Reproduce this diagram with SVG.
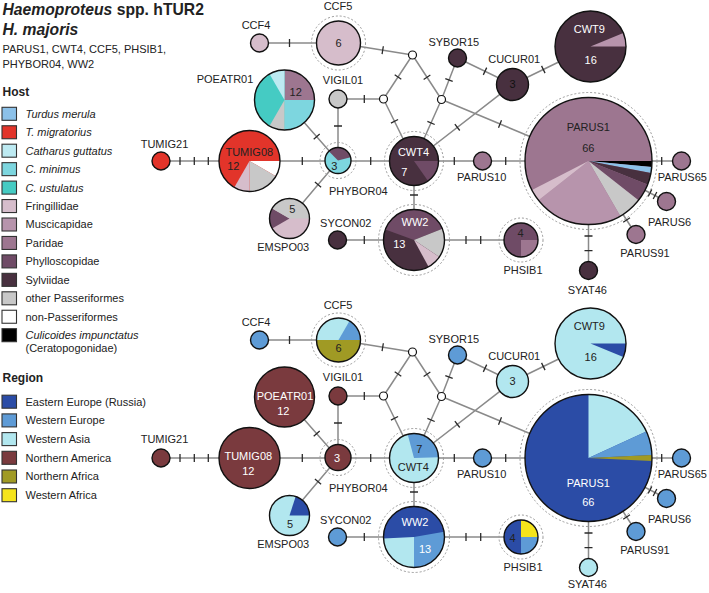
<svg xmlns="http://www.w3.org/2000/svg" width="709" height="593" viewBox="0 0 709 593">
<style>
text{font-family:"Liberation Sans",Arial,sans-serif;font-size:11px;fill:#222}
.c{text-anchor:middle}
.wt{fill:#fff}
.b{font-weight:bold}
.i{font-style:italic}
.e{stroke:#8a8a8a;stroke-width:1.5;fill:none}
.t{stroke:#2a2a2a;stroke-width:1.3;fill:none}
.n{stroke:#111;stroke-width:1.4}
.o{fill:none;stroke:#111;stroke-width:1.4}
.d{fill:none;stroke:#9a9a9a;stroke-width:1;stroke-dasharray:2 2}
.j{fill:#fff;stroke:#111;stroke-width:1.2}
.lb{stroke:#333;stroke-width:1.1}
.tm{fill:#8CC1E9}.tmig{fill:#E2342A}.cg{fill:#BDEAF2}.cmin{fill:#7DD6DF}.cust{fill:#45CBC3}
.fring{fill:#D6BDCB}.musc{fill:#B794AC}.parid{fill:#9D7690}.phyl{fill:#6F4B66}.sylv{fill:#48303F}
.oth{fill:#C8C8C8}.nonp{fill:#FFFFFF}.culi{fill:#000}
.ee{fill:#2B4CA6}.we{fill:#5E9BD6}.wa{fill:#B2E7EF}.na{fill:#7A3A3E}.naf{fill:#A09A24}.waf{fill:#F5E41C}
</style>

<g id="legend">
<text x="2.5" y="14.5" class="b" style="font-size:15.7px"><tspan class="i">Haemoproteus</tspan> spp. hTUR2</text>
<text x="2.5" y="35" class="b i" style="font-size:15.7px">H. majoris</text>
<text x="2.5" y="53">PARUS1, CWT4, CCF5, PHSIB1,</text>
<text x="2.5" y="68">PHYBOR04, WW2</text>
<text x="2.5" y="96" class="b" style="font-size:12px">Host</text>
<rect class="lb tm" x="2" y="107.3" width="14.5" height="13"/><text x="25.5" y="117.7" class="i">Turdus merula</text>
<rect class="lb tmig" x="2" y="125.75" width="14.5" height="13"/><text x="25.5" y="136.15" class="i">T. migratorius</text>
<rect class="lb cg" x="2" y="144.2" width="14.5" height="13"/><text x="25.5" y="154.6" class="i">Catharus guttatus</text>
<rect class="lb cmin" x="2" y="162.65" width="14.5" height="13"/><text x="25.5" y="173.05" class="i">C. minimus</text>
<rect class="lb cust" x="2" y="181.1" width="14.5" height="13"/><text x="25.5" y="191.5" class="i">C. ustulatus</text>
<rect class="lb fring" x="2" y="199.55" width="14.5" height="13"/><text x="25.5" y="209.95">Fringillidae</text>
<rect class="lb musc" x="2" y="218" width="14.5" height="13"/><text x="25.5" y="228.4">Muscicapidae</text>
<rect class="lb parid" x="2" y="236.45" width="14.5" height="13"/><text x="25.5" y="246.85">Paridae</text>
<rect class="lb phyl" x="2" y="254.9" width="14.5" height="13"/><text x="25.5" y="265.3">Phylloscopidae</text>
<rect class="lb sylv" x="2" y="273.35" width="14.5" height="13"/><text x="25.5" y="283.75">Sylviidae</text>
<rect class="lb oth" x="2" y="291.8" width="14.5" height="13"/><text x="25.5" y="302.2">other Passeriformes</text>
<rect class="lb nonp" x="2" y="310.25" width="14.5" height="13"/><text x="25.5" y="320.65">non-Passeriformes</text>
<rect class="lb culi" x="2" y="328.7" width="14.5" height="13"/><text x="25.5" y="339.1" class="i">Culicoides impunctatus</text>
<text x="25.5" y="352.3">(Ceratopogonidae)</text>
<text x="2.5" y="382" class="b" style="font-size:12px">Region</text>
<rect class="lb ee" x="2" y="395.2" width="14.5" height="13"/><text x="25.5" y="405.6">Eastern Europe (Russia)</text>
<rect class="lb we" x="2" y="413.9" width="14.5" height="13"/><text x="25.5" y="424.3">Western Europe</text>
<rect class="lb wa" x="2" y="432.6" width="14.5" height="13"/><text x="25.5" y="443">Western Asia</text>
<rect class="lb na" x="2" y="451.3" width="14.5" height="13"/><text x="25.5" y="461.7">Northern America</text>
<rect class="lb naf" x="2" y="470" width="14.5" height="13"/><text x="25.5" y="480.4">Northern Africa</text>
<rect class="lb waf" x="2" y="488.7" width="14.5" height="13"/><text x="25.5" y="499.1">Western Africa</text>
</g>

<!-- ================= HOST NETWORK ================= -->
<g id="host-network">
<g id="host-connectors">
<path class="e" d="M161,161H681.5 M284.5,100L338,161 M289.5,218.5L338,161 M338,99V161 M338,99H383.5 M259.5,43H338.5 M338.5,43L412.5,55 M412.5,55L383.5,99 M412.5,55L441.5,99.5 M383.5,99L414,161 M441.5,99.5L414,161 M441.5,99.5L457.5,58 M441.5,99.5L588.5,161 M414,161L512.5,84.5 M457.5,58L512.5,84.5 M512.5,84.5L590.5,46.5 M414,161V240 M337.5,240H521 M588.5,161L666.5,201.5 M588.5,161L636,234.5 M588.5,161V270.5"/>
<path class="t" d="M180,157V165 M194.3,157V165 M208.3,157V165 M302.3,157V165 M370.7,157V165 M454.3,157V165 M505.7,157V165 M661.7,157V165 M289.5,39V47 M364.3,95V103 M364.3,236V244 M466,236V244 M480.7,236V244 M334,126H342 M410,195H418 M584.5,236H592.5 M584.5,250.7H592.5 M313.7,139.3L319.7,134.1 M321.1,187.3L314.9,182.1 M382.06,54.15L383.34,46.25 M401.3,79.2L394.7,74.8 M430.35,75.07L423.65,79.43 M398.1,119.5L390.9,123.1 M434.7,124.5L427.4,121.3 M452.7,81.4L445.3,78.6 M498.5,127.7L501.5,120.3 M459.75,130.5L454.85,124.1 M483.3,74.85L486.7,67.65 M545.05,73.1L541.55,65.9 M648.2,196.4L651.8,189.4 M653.2,199L656.8,192 M623.2,222.2L630,217.8"/>
</g>
<g id="h-J1"><circle class="j" cx="412.5" cy="55" r="4"/></g>
<g id="h-J2"><circle class="j" cx="383.5" cy="99" r="4"/></g>
<g id="h-J3"><circle class="j" cx="441.5" cy="99.5" r="4"/></g>
<g id="h-TUMIG21"><circle class="n tmig" cx="161" cy="161" r="9"/><text class="c" x="164.5" y="148">TUMIG21</text></g>
<g id="h-TUMIG08"><circle class="tmig" cx="249.5" cy="161" r="30.5"/>
<path class="nonp" d="M249.5,161L280,161A30.5,30.5 0 0 1 275.91,176.25Z"/>
<path class="oth" d="M249.5,161L275.91,176.25A30.5,30.5 0 0 1 249.5,191.5Z"/>
<path class="fring" d="M249.5,161L249.5,191.5A30.5,30.5 0 0 1 234.25,187.41Z"/>
<circle class="o" cx="249.5" cy="161" r="30.5"/>
<text class="c" x="249.3" y="155.6">TUMIG08</text><text class="c" x="233.3" y="169.6">12</text></g>
<g id="h-POEATR01"><circle class="cust" cx="284.5" cy="100" r="30"/>
<path class="parid" d="M284.5,100L284.5,70A30,30 0 0 1 314.5,100Z"/>
<path class="cmin" d="M284.5,100L314.5,100A30,30 0 0 1 284.5,130Z"/>
<path class="oth" d="M284.5,100L284.5,130A30,30 0 0 1 269.5,125.98Z"/>
<path class="cg" d="M284.5,100L269.5,74.02A30,30 0 0 1 284.5,70Z"/>
<circle class="o" cx="284.5" cy="100" r="30"/>
<text class="c" x="295.7" y="95.6">12</text><text class="c" x="225" y="83">POEATR01</text></g>
<g id="h-EMSPO03"><circle class="fring" cx="289.5" cy="218.5" r="20"/>
<path class="phyl" d="M289.5,218.5L272.18,228.5A20,20 0 0 1 272.18,208.5Z"/>
<path class="oth" d="M289.5,218.5L272.18,208.5A20,20 0 0 1 309.5,218.5Z"/>
<circle class="o" cx="289.5" cy="218.5" r="20"/>
<text class="c" x="292.3" y="213.2">5</text><text class="c" x="283.2" y="250.5">EMSPO03</text></g>
<g id="h-PHYBOR04"><circle class="d" cx="338" cy="160.5" r="18"/><circle class="cmin" cx="338" cy="160.5" r="13"/>
<path class="phyl" d="M338,160.5L328.81,151.31A13,13 0 0 1 350.56,157.14Z"/>
<circle class="o" cx="338" cy="160.5" r="13"/>
<text class="c" x="334.3" y="169.6">3</text><text class="c" x="358.3" y="194.5">PHYBOR04</text></g>
<g id="h-VIGIL01"><circle class="n oth" cx="338" cy="99" r="9"/><text class="c" x="343" y="84">VIGIL01</text></g>
<g id="h-CCF4"><circle class="n fring" cx="259.5" cy="43" r="9"/><text class="c" x="256" y="29">CCF4</text></g>
<g id="h-CCF5"><circle class="d" cx="338.5" cy="43" r="27"/><circle class="n fring" cx="338.5" cy="43" r="22"/>
<text class="c" x="338.5" y="47">6</text><text class="c" x="338" y="10">CCF5</text></g>
<g id="h-SYBOR15"><circle class="n sylv" cx="457.5" cy="58" r="9"/><text class="c" x="453.8" y="46">SYBOR15</text></g>
<g id="h-CUCUR01"><circle class="n sylv" cx="512.5" cy="84.5" r="16"/><text class="c" x="512.5" y="88.4" style="fill:#111">3</text><text class="c" x="514.2" y="63">CUCUR01</text></g>
<g id="h-CWT9"><circle class="sylv" cx="590.5" cy="46.5" r="35.5"/>
<path class="musc" d="M590.5,46.5L623.3,32.91A35.5,35.5 0 0 1 626,46.5Z"/>
<circle class="o" cx="590.5" cy="46.5" r="35.5"/>
<text class="c wt" x="589.3" y="33.2">CWT9</text><text class="c wt" x="590.7" y="64">16</text></g>
<g id="h-CWT4"><circle class="d" cx="414" cy="161" r="29.5"/><circle class="sylv" cx="414" cy="161" r="24.5"/>
<path class="phyl" d="M414,161L438.5,161A24.5,24.5 0 0 1 428.05,181.07Z"/>
<circle class="o" cx="414" cy="161" r="24.5"/>
<text class="c wt" x="413.5" y="155.6">CWT4</text><text class="c wt" x="404.3" y="175.6">7</text></g>
<g id="h-PARUS10"><circle class="n parid" cx="482.5" cy="161" r="9"/><text class="c" x="481.7" y="180.5">PARUS10</text></g>
<g id="h-PARUS1"><circle class="d" cx="588.5" cy="161" r="68.5"/><circle class="parid" cx="588.5" cy="161" r="63.5"/>
<path class="culi" d="M588.5,161L652,161A63.5,63.5 0 0 1 651.71,167.04Z"/>
<path class="tm" d="M588.5,161L651.71,167.04A63.5,63.5 0 0 1 650.85,173.02Z"/>
<path class="sylv" d="M588.5,161L650.85,173.02A63.5,63.5 0 0 1 647.45,184.6Z"/>
<path class="phyl" d="M588.5,161L647.45,184.6A63.5,63.5 0 0 1 638.41,200.25Z"/>
<path class="oth" d="M588.5,161L638.41,200.25A63.5,63.5 0 0 1 620.25,215.99Z"/>
<path class="musc" d="M588.5,161L620.25,215.99A63.5,63.5 0 0 1 538.59,200.25Z"/>
<path class="fring" d="M588.5,161L538.59,200.25A63.5,63.5 0 0 1 532.06,190.1Z"/>
<circle class="o" cx="588.5" cy="161" r="63.5"/>
<text class="c" x="588.3" y="130.6">PARUS1</text><text class="c" x="588.3" y="152.2">66</text></g>
<g id="h-PARUS65"><circle class="n parid" cx="681.5" cy="161" r="9"/><text class="c" x="682.3" y="181">PARUS65</text></g>
<g id="h-PARUS6"><circle class="n parid" cx="666.5" cy="201.5" r="9"/><text class="c" x="669.5" y="225.5">PARUS6</text></g>
<g id="h-PARUS91"><circle class="n parid" cx="636" cy="234.5" r="9"/><text class="c" x="645" y="256.5">PARUS91</text></g>
<g id="h-SYAT46"><circle class="n sylv" cx="588.5" cy="270.5" r="9"/><text class="c" x="587.3" y="294">SYAT46</text></g>
<g id="h-SYCON02"><circle class="n sylv" cx="337.5" cy="240" r="9"/><text class="c" x="345.8" y="226.5">SYCON02</text></g>
<g id="h-WW2"><circle class="d" cx="414" cy="240" r="35.5"/><circle class="sylv" cx="414" cy="240" r="30.5"/>
<path class="phyl" d="M414,240L385.34,229.57A30.5,30.5 0 0 1 442.38,228.82Z"/>
<path class="oth" d="M414,240L442.38,228.82A30.5,30.5 0 0 1 439.35,256.97Z"/>
<path class="fring" d="M414,240L439.35,256.97A30.5,30.5 0 0 1 428.55,266.8Z"/>
<circle class="o" cx="414" cy="240" r="30.5"/>
<text class="c wt" x="415" y="225.6">WW2</text><text class="c wt" x="399.3" y="248">13</text></g>
<g id="h-PHSIB1"><circle class="d" cx="521" cy="240" r="22"/><circle class="phyl" cx="521" cy="240" r="17"/>
<path class="parid" d="M521,240L538,240A17,17 0 0 1 521,257Z"/>
<circle class="o" cx="521" cy="240" r="17"/>
<text class="c" x="520.5" y="236.6">4</text><text class="c" x="523" y="274">PHSIB1</text></g>
</g>

<!-- ================= REGION NETWORK ================= -->
<g id="region-network" transform="translate(0,297)">
<g id="region-connectors">
<path class="e" d="M161,161H681.5 M284.5,100L338,161 M289.5,218.5L338,161 M338,99V161 M338,99H383.5 M259.5,43H338.5 M338.5,43L412.5,55 M412.5,55L383.5,99 M412.5,55L441.5,99.5 M383.5,99L414,161 M441.5,99.5L414,161 M441.5,99.5L457.5,58 M441.5,99.5L588.5,161 M414,161L512.5,84.5 M457.5,58L512.5,84.5 M512.5,84.5L590.5,46.5 M414,161V240 M337.5,240H521 M588.5,161L666.5,201.5 M588.5,161L636,234.5 M588.5,161V270.5"/>
<path class="t" d="M180,157V165 M194.3,157V165 M208.3,157V165 M302.3,157V165 M370.7,157V165 M454.3,157V165 M505.7,157V165 M661.7,157V165 M289.5,39V47 M364.3,95V103 M364.3,236V244 M466,236V244 M480.7,236V244 M334,126H342 M410,195H418 M584.5,236H592.5 M584.5,250.7H592.5 M313.7,139.3L319.7,134.1 M321.1,187.3L314.9,182.1 M382.06,54.15L383.34,46.25 M401.3,79.2L394.7,74.8 M430.35,75.07L423.65,79.43 M398.1,119.5L390.9,123.1 M434.7,124.5L427.4,121.3 M452.7,81.4L445.3,78.6 M498.5,127.7L501.5,120.3 M459.75,130.5L454.85,124.1 M483.3,74.85L486.7,67.65 M545.05,73.1L541.55,65.9 M648.2,196.4L651.8,189.4 M653.2,199L656.8,192 M623.2,222.2L630,217.8"/>
</g>
<g id="r-J1"><circle class="j" cx="412.5" cy="55" r="4"/></g>
<g id="r-J2"><circle class="j" cx="383.5" cy="99" r="4"/></g>
<g id="r-J3"><circle class="j" cx="441.5" cy="99.5" r="4"/></g>
<g id="r-TUMIG21"><circle class="n na" cx="161" cy="161" r="9"/><text class="c" x="164.5" y="145.5">TUMIG21</text></g>
<g id="r-TUMIG08"><circle class="n na" cx="249.5" cy="161" r="30.5"/><text class="c wt" x="248.3" y="162.6">TUMIG08</text><text class="c wt" x="248.3" y="177.6">12</text></g>
<g id="r-POEATR01"><circle class="n na" cx="284.5" cy="100" r="30"/><text class="c wt" x="285" y="102.9">POEATR01</text><text class="c wt" x="283.3" y="117.6">12</text></g>
<g id="r-EMSPO03"><circle class="wa" cx="289.5" cy="218.5" r="20"/>
<path class="ee" d="M289.5,218.5L295.68,199.48A20,20 0 0 1 309.5,218.5Z"/>
<circle class="o" cx="289.5" cy="218.5" r="20"/>
<text class="c" x="290" y="230.9">5</text><text class="c" x="283.2" y="250.5">EMSPO03</text></g>
<g id="r-PHYBOR04"><circle class="d" cx="338" cy="160.5" r="18"/><circle class="n na" cx="338" cy="160.5" r="13"/>
<text class="c wt" x="337" y="164.6">3</text><text class="c" x="358.3" y="194.5">PHYBOR04</text></g>
<g id="r-VIGIL01"><circle class="n na" cx="338" cy="99" r="9"/><text class="c" x="343" y="84">VIGIL01</text></g>
<g id="r-CCF4"><circle class="n we" cx="259.5" cy="43" r="9"/><text class="c" x="256" y="29">CCF4</text></g>
<g id="r-CCF5"><circle class="d" cx="338.5" cy="43" r="27"/><circle class="wa" cx="338.5" cy="43" r="22"/>
<path class="naf" d="M338.5,43L360.5,43A22,22 0 0 1 316.5,43Z"/>
<path class="we" d="M338.5,43L349.5,23.95A22,22 0 0 1 360.5,43Z"/>
<circle class="o" cx="338.5" cy="43" r="22"/>
<text class="c" x="338.5" y="55.2">6</text><text class="c" x="338" y="12">CCF5</text></g>
<g id="r-SYBOR15"><circle class="n we" cx="457.5" cy="58" r="9"/><text class="c" x="453.8" y="46">SYBOR15</text></g>
<g id="r-CUCUR01"><circle class="n wa" cx="512.5" cy="84.5" r="16"/><text class="c" x="512.5" y="88.4">3</text><text class="c" x="514.2" y="63">CUCUR01</text></g>
<g id="r-CWT9"><circle class="wa" cx="590.5" cy="46.5" r="35.5"/>
<path class="ee" d="M590.5,46.5L626,46.5A35.5,35.5 0 0 1 623.3,60.09Z"/>
<circle class="o" cx="590.5" cy="46.5" r="35.5"/>
<text class="c" x="589.3" y="33.2">CWT9</text><text class="c" x="590.7" y="64">16</text></g>
<g id="r-CWT4"><circle class="d" cx="414" cy="161" r="29.5"/><circle class="wa" cx="414" cy="161" r="24.5"/>
<path class="we" d="M414,161L407.66,137.33A24.5,24.5 0 0 1 438.49,160.14Z"/>
<circle class="o" cx="414" cy="161" r="24.5"/>
<text class="c" x="419.3" y="155.9">7</text><text class="c" x="413.3" y="174.2">CWT4</text></g>
<g id="r-PARUS10"><circle class="n we" cx="482.5" cy="161" r="9"/><text class="c" x="481.7" y="180.5">PARUS10</text></g>
<g id="r-PARUS1"><circle class="d" cx="588.5" cy="161" r="68.5"/><circle class="ee" cx="588.5" cy="161" r="63.5"/>
<path class="wa" d="M588.5,161L588.5,97.5A63.5,63.5 0 0 1 646.26,134.62Z"/>
<path class="we" d="M588.5,161L646.26,134.62A63.5,63.5 0 0 1 651.93,157.98Z"/>
<path class="naf" d="M588.5,161L651.93,157.98A63.5,63.5 0 0 1 651.93,164.02Z"/>
<circle class="o" cx="588.5" cy="161" r="63.5"/>
<text class="c wt" x="588.3" y="189.6">PARUS1</text><text class="c wt" x="588.3" y="208.6">66</text></g>
<g id="r-PARUS65"><circle class="n we" cx="681.5" cy="161" r="9"/><text class="c" x="682.3" y="181">PARUS65</text></g>
<g id="r-PARUS6"><circle class="n we" cx="666.5" cy="201.5" r="9"/><text class="c" x="669.5" y="225.5">PARUS6</text></g>
<g id="r-PARUS91"><circle class="n we" cx="636" cy="234.5" r="9"/><text class="c" x="645" y="256.5">PARUS91</text></g>
<g id="r-SYAT46"><circle class="n wa" cx="588.5" cy="270.5" r="9"/><text class="c" x="587.3" y="291">SYAT46</text></g>
<g id="r-SYCON02"><circle class="n we" cx="337.5" cy="240" r="9"/><text class="c" x="345.8" y="226.5">SYCON02</text></g>
<g id="r-WW2"><circle class="d" cx="414" cy="240" r="35.5"/><circle class="ee" cx="414" cy="240" r="30.5"/>
<path class="wa" d="M414,240L414,270.5A30.5,30.5 0 0 1 383.54,241.6Z"/>
<path class="we" d="M414,240L444.04,234.7A30.5,30.5 0 0 1 414,270.5Z"/>
<circle class="o" cx="414" cy="240" r="30.5"/>
<text class="c wt" x="415" y="228.6">WW2</text><text class="c wt" x="425" y="256.2">13</text></g>
<g id="r-PHSIB1"><circle class="d" cx="521" cy="240" r="22"/><circle class="ee" cx="521" cy="240" r="17"/>
<path class="waf" d="M521,240L521,223A17,17 0 0 1 538,240Z"/>
<path class="we" d="M521,240L538,240A17,17 0 0 1 521,257Z"/>
<circle class="o" cx="521" cy="240" r="17"/>
<text class="c" x="512.5" y="245">4</text><text class="c" x="523" y="274">PHSIB1</text></g>
</g>
</svg>
